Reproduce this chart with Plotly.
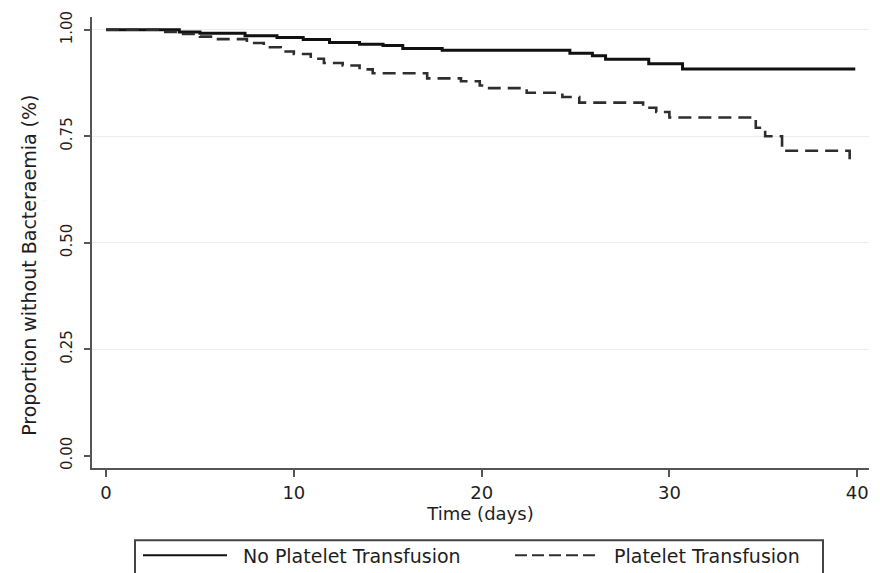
import plotly.graph_objects as go

# ---- Data (Kaplan-Meier step curves) ----
# time at which each step begins, and survival level from that time on
time_no_tx = [0, 3.9, 5.0, 7.4, 9.1, 10.5, 11.9, 13.5, 14.75, 15.8, 17.9,
              24.7, 25.9, 26.6, 28.9, 30.7, 39.9]
surv_no_tx = [1.0, 0.995, 0.992, 0.986, 0.982, 0.977, 0.970, 0.966, 0.963, 0.956, 0.952,
              0.945, 0.939, 0.931, 0.920, 0.908, 0.908]

time_tx = [0, 3.0, 3.9, 5.0, 5.7, 7.5, 8.4, 9.3, 10.0, 10.9, 11.6, 12.6, 13.5, 14.2,
           17.1, 18.9, 19.9, 20.4, 22.4, 24.3, 25.2, 28.6, 29.3, 30.0, 34.6, 35.1,
           36.0, 39.6, 39.65]
surv_tx = [1.0, 0.995, 0.990, 0.984, 0.978, 0.969, 0.959, 0.949, 0.943, 0.932, 0.922,
           0.916, 0.907, 0.898, 0.886, 0.879, 0.869, 0.863, 0.852, 0.842, 0.829, 0.817,
           0.807, 0.794, 0.770, 0.750, 0.716, 0.692, 0.692]

series_names = ["No Platelet Transfusion", "Platelet Transfusion"]
x_ticks = [0, 10, 20, 30, 40]
y_ticks = [0.0, 0.25, 0.50, 0.75, 1.00]
y_grid = [0.25, 0.50, 0.75, 1.00]

FONT = "DejaVu Sans"
W, H = 880, 573
L, R, T, B = 92, 11, 13, 105


def px_x(px):
    return (px - L) / (W - L - R)


def px_y(py):
    return 1 - (py - T) / (H - T - B)


fig = go.Figure()
fig.add_trace(go.Scatter(x=time_no_tx, y=surv_no_tx, mode="lines", name=series_names[0],
                         line=dict(shape="hv", color="#111111", width=3)))
fig.add_trace(go.Scatter(x=time_tx, y=surv_tx, mode="lines", name=series_names[1],
                         line=dict(shape="hv", color="#2e2e2e", width=2.6, dash="13px,7px")))

# manual Stata-style legend (box runs off the bottom of the picture)
shapes = [
    dict(type="rect", xref="paper", yref="paper", x0=px_x(135), x1=px_x(823),
         y0=px_y(541), y1=px_y(640), line=dict(color="#444", width=2), fillcolor="rgba(0,0,0,0)"),
    dict(type="line", xref="paper", yref="paper", x0=px_x(143), x1=px_x(227),
         y0=px_y(556), y1=px_y(556), line=dict(color="#111111", width=2)),
    dict(type="line", xref="paper", yref="paper", x0=px_x(515), x1=px_x(598),
         y0=px_y(556), y1=px_y(556), line=dict(color="#2e2e2e", width=2, dash="12px,5px")),
]
annotations = [
    dict(text=series_names[0], xref="paper", yref="paper", x=px_x(241), y=px_y(557),
         xanchor="left", yanchor="middle", showarrow=False,
         font=dict(family=FONT, size=19, color="#1e1e1e")),
    dict(text=series_names[1], xref="paper", yref="paper", x=px_x(612), y=px_y(557),
         xanchor="left", yanchor="middle", showarrow=False,
         font=dict(family=FONT, size=19, color="#1e1e1e")),
    dict(text="Proportion without Bacteraemia (%)", xref="paper", yref="paper",
         x=px_x(29), y=px_y(264), xanchor="center", yanchor="middle", textangle=-90,
         showarrow=False, font=dict(family=FONT, size=19, color="#1e1e1e")),
]

fig.update_layout(
    width=W, height=H,
    margin=dict(l=L, r=R, t=T, b=B),
    paper_bgcolor="white", plot_bgcolor="white",
    showlegend=False,
    shapes=shapes, annotations=annotations,
    font=dict(family=FONT, color="#1e1e1e"),
    xaxis=dict(range=[-0.75, 40.63], tickvals=x_ticks, ticks="outside", ticklen=7,
               tickwidth=1.5, tickcolor="#555", showline=True, linecolor="#555", linewidth=2,
               showgrid=False, zeroline=False, tickfont=dict(family=FONT, size=18, color="#1e1e1e"),
               title=dict(text="Time (days)", font=dict(family=FONT, size=18, color="#1e1e1e"),
                          standoff=6)),
    yaxis=dict(range=[-0.029, 1.030], tickvals=y_ticks, tickformat=".2f", tickangle=-90,
               ticks="outside", ticklen=6, tickwidth=1.5, tickcolor="#555",
               showline=True, linecolor="#555", linewidth=2, showgrid=False, zeroline=False,
               ticklabelstandoff=6,
               tickfont=dict(family=FONT, size=15, color="#1e1e1e"),
               minor=dict(tickvals=y_grid, showgrid=True, gridcolor="#ececec", gridwidth=1,
                          ticks="")),
)

fig.write_html("out.html", config={"displayModeBar": False},
               post_script="document.body.style.margin='0';document.body.style.overflow='hidden';")
